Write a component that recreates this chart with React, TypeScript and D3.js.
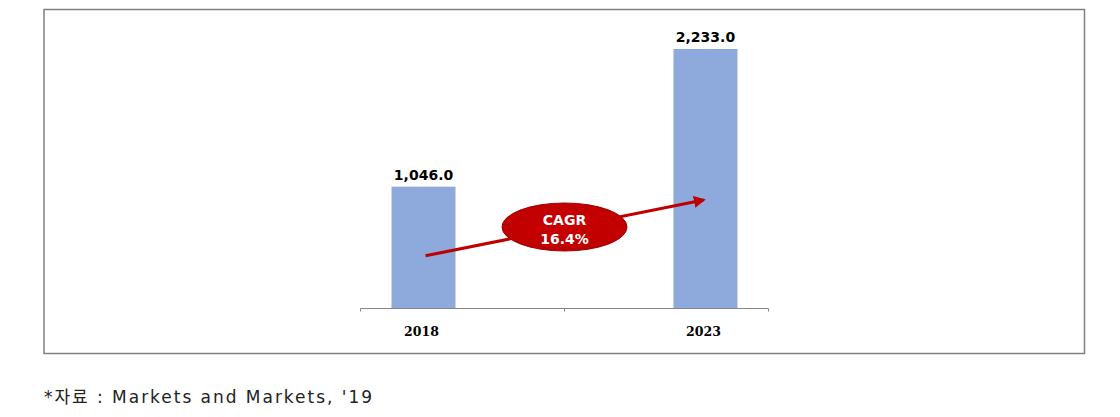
import React from "react";
import * as d3 from "d3";

const categories = ["2018", "2023"];
const values = [1046.0, 2233.0];
const valueLabels = ["1,046.0", "2,233.0"];
const cagrLines = ["CAGR", "16.4%"];
const sourceText = "*자료 : Markets and Markets, '19";

export default function App() {
  const W = 1120, H = 417;
  const x = d3.scaleBand<string>().domain(categories).range([360.5, 768.5]).paddingInner(0.773).paddingOuter(0.11);
  const y = d3.scaleLinear().domain([0, 2500]).range([308, 18]);
  const fmt = (i: number) => valueLabels[i];
  const cx = (c: string) => (x(c) as number) + x.bandwidth() / 2;

  const ax1 = cx(categories[0]) + 2, ay1 = y(values[0] * 0.43);
  const ax2 = cx(categories[1]) - 2, ay2 = y(values[0] * 0.89);
  const mid = (360.5 + 768.5) / 2;

  return (
    <svg width={W} height={H} style={{ position: "absolute", left: 0, top: 0 }}>
      <defs>
        <marker id="arr" viewBox="0 0 10 10" refX="8" refY="5" markerWidth="4" markerHeight="4" orient="auto">
          <path d="M0,0 L10,5 L0,10 z" fill="#c00000" />
        </marker>
        <radialGradient id="eg" cx="50%" cy="45%" r="60%">
          <stop offset="0%" stopColor="#c80000" />
          <stop offset="85%" stopColor="#c00000" />
          <stop offset="100%" stopColor="#9a0000" />
        </radialGradient>
      </defs>
      <rect x={44} y={9.5} width={1040.5} height={344} fill="white" stroke="#808080" strokeWidth={1.5} />
      {categories.map((c, i) => (
        <g key={c}>
          <rect x={x(c)} y={y(values[i])} width={x.bandwidth()} height={y(0) - y(values[i])} fill="#8EA9DB" />
          <text x={cx(c)} y={y(values[i]) - 7} textAnchor="middle" fontFamily="DejaVu Sans" fontWeight="bold" fontSize={14} fill="#000">{fmt(i)}</text>
          <text x={cx(c) - 2} y={336} textAnchor="middle" fontFamily="DejaVu Serif" fontWeight="bold" fontSize={12.5} fill="#000">{c}</text>
        </g>
      ))}
      <path d={`M360.5,311.5 V308.5 H768.5 V311.5 M${mid},308.5 V311.5`} fill="none" stroke="#868686" strokeWidth={1} />
      <line x1={ax1} y1={ay1} x2={ax2} y2={ay2} stroke="#c00000" strokeWidth={3} markerEnd="url(#arr)" />
      <ellipse cx={mid} cy={227} rx={62.5} ry={24} fill="url(#eg)" stroke="#a00000" strokeWidth={1} />
      <text x={mid} y={225} textAnchor="middle" fontFamily="DejaVu Sans" fontWeight="bold" fontSize={14} fill="#fff">{cagrLines[0]}</text>
      <text x={mid} y={243.5} textAnchor="middle" fontFamily="DejaVu Sans" fontWeight="bold" fontSize={14} fill="#fff">{cagrLines[1]}</text>
      <text x={44} y={403} fontFamily="'DejaVu Sans', 'Noto Sans CJK KR'" fontSize={17} fill="#222" textLength={328} lengthAdjust="spacing">{sourceText}</text>
    </svg>
  );
}
